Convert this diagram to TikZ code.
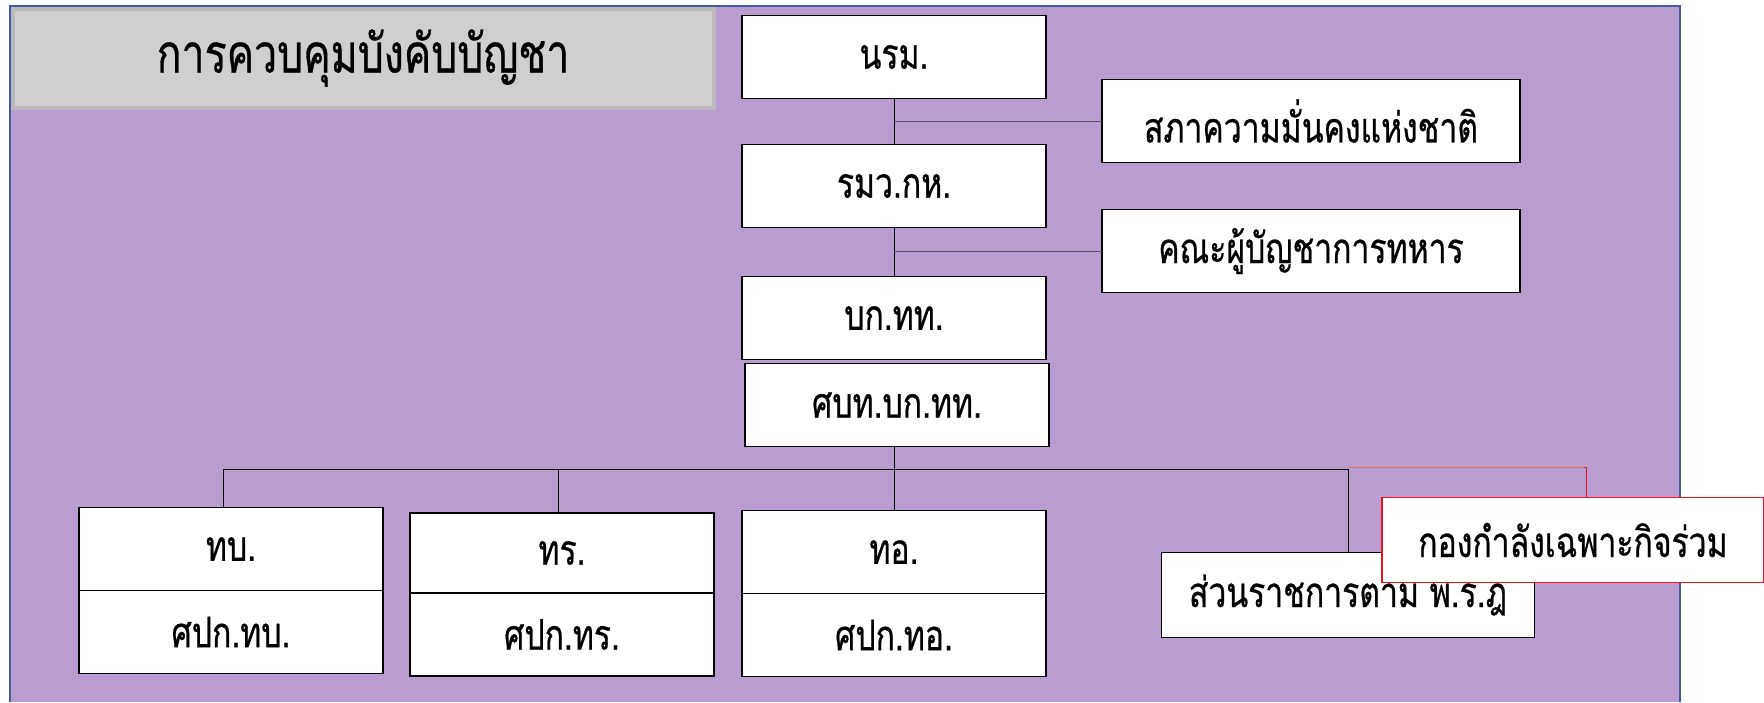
\documentclass[tikz,border=0pt]{standalone}
\usepackage{fontspec}
\newfontfamily\thaifont[Script=Thai, FakeStretch=0.76, FakeBold=0.6]{Loma}
\usetikzlibrary{positioning, calc}
\definecolor{bgpurple}{RGB}{185,156,208}
\definecolor{frameblue}{RGB}{68,90,160}
\definecolor{titlegray}{RGB}{208,206,206}
\definecolor{titleedge}{RGB}{186,184,184}
\definecolor{linkgray}{RGB}{85,85,95}
\definecolor{jtfred}{RGB}{235,20,30}
\definecolor{jtforange}{RGB}{220,120,80}
\tikzset{
    unit box/.style={
        rectangle,
        draw=black,
        fill=white,
        line width=1.2,
        minimum width=304,
        minimum height=83,
        inner sep=0,
        outer sep=0,
        font=\thaifont\fontsize{42}{48}\selectfont
    },
    side box/.style={
        unit box,
        minimum width=418
    },
    conn/.style={
        draw=black,
        line width=1
    },
    side conn/.style={
        draw=linkgray,
        line width=1
    }
}

\begin{document}
\begin{tikzpicture}[
    x=1pt, y=-1pt,
    title box/.style={rectangle, fill=titlegray, draw=titleedge, line width=4,
                      minimum width=701, minimum height=99, inner sep=0,
                      font=\thaifont\fontsize{54}{62}\selectfont},
    jtf box/.style={unit box, draw=jtfred, line width=1.5, minimum width=382, minimum height=85}
]
\useasboundingbox (0,0) rectangle (1764,702);

% Background
\fill[bgpurple] (10,6) rectangle (1680,702);
\draw[frameblue, line width=1.5] (10,702) -- (10,6) -- (1680,6) -- (1680,702);

% Title
\node[title box] (title) at (363,58) {การควบคุมบังคับบัญชา};

% === COMMAND CHAIN ===
\node[unit box] (nrm) at (894,57) {นรม.};
\node[unit box] (mod) at (894,186) {รมว.กห.};
\node[unit box] (rtarf) at (894,318) {บก.ทท.};
\node[unit box] (ncc) at (897,405) {ศบท.บก.ทท.};

% Side councils
\node[side box] (nsc) at (1311,121) {สภาความมั่นคงแห่งชาติ};
\node[side box] (chiefs) at (1311,251) {คณะผู้บัญชาการทหาร};

\draw[conn] (nrm) -- (mod);
\draw[conn] (mod) -- (rtarf);
\draw[side conn] (nrm.south |- nsc.west) -- (nsc.west);
\draw[side conn] (mod.south |- chiefs.west) -- (chiefs.west);

% === SERVICES ===
\node[unit box] (army) at (231,549) {ทบ.};
\node[unit box, below=0pt of army] (armyoc) {ศปก.ทบ.};
\node[unit box, minimum height=80] (navy) at (562,553) {ทร.};
\node[unit box, below=0pt of navy] (navyoc) {ศปก.ทร.};
\node[unit box] (air) at (894,552) {ทอ.};
\node[unit box, below=0pt of air] (airoc) {ศปก.ทอ.};
\node[unit box, minimum width=373, minimum height=85] (decree) at (1348,595) {ส่วนราชการตาม พ.ร.ฎ};
\node[jtf box] (jtf) at (1573,540) {กองกำลังเฉพาะกิจร่วม};

% Bus
\coordinate (bus) at ($(ncc.south)+(-3,23)$);
\draw[conn] (ncc.south -| bus) -- (bus);
\draw[conn] (bus) -| (army.north -| 223,0);
\draw[conn] (bus) -| (navy.north -| 558,0);
\draw[conn] (bus) -- (air.north);
\draw[conn] (bus) -| (decree.north);
\draw[jtfred, line width=1] (decree.north |- bus) ++(0,-2) -| ($(jtf.north)+(13,0)$);
\draw[jtforange, line width=1] (decree.north |- bus) ++(0,-2) -- ++(236,0);

\end{tikzpicture}
\end{document}
